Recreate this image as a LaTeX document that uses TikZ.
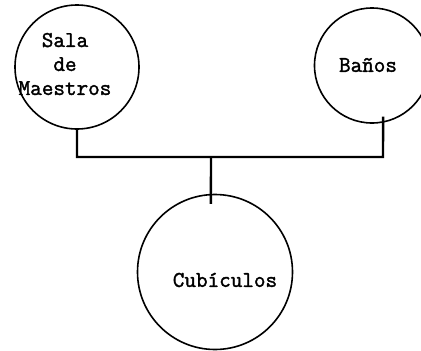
\documentclass[tikz,border=0pt]{standalone}
\usepackage{fontspec}
\newfontfamily\twfont{Latin Modern Mono}[FakeBold=1.6]
\begin{document}
\begin{tikzpicture}[x=1pt,y=-1pt,
  room/.style={circle,draw=black,line width=1.6pt,inner sep=0pt},
  lbl/.style={font=\twfont\fontsize{22.5}{24}\selectfont,align=center,inner sep=0pt},
  wire/.style={draw=black,line width=2.4pt}]
\useasboundingbox (0,0) rectangle (421,351);
\clip (0,0) rectangle (421,351);
\fill[white] (0,0) rectangle (421,351);
\node[room,minimum size=124pt] (c1) at (77,67) {};
\node[room,minimum size=115pt] (c2) at (372,65.5) {};
\node[room,minimum size=155pt] (c3) at (215,272) {};
\node[lbl] (t1) at (65,64) {Sala\\de\\Maestros};
\node[lbl] (t2) at (368,65) {Baños};
\node[lbl] (t3) at (225,280) {Cubículos};
\coordinate (j1) at (77,157);
\coordinate (j3) at (211,157);
\coordinate (j2) at (383,157);
\draw[wire] (c1.south) -- (j1) -- (j3) -- (j2) -- ([shift={(0,-6)}]c2.-79);
\draw[wire,shorten >=-10pt] (j3) -- (c3.93);
\end{tikzpicture}
\end{document}
